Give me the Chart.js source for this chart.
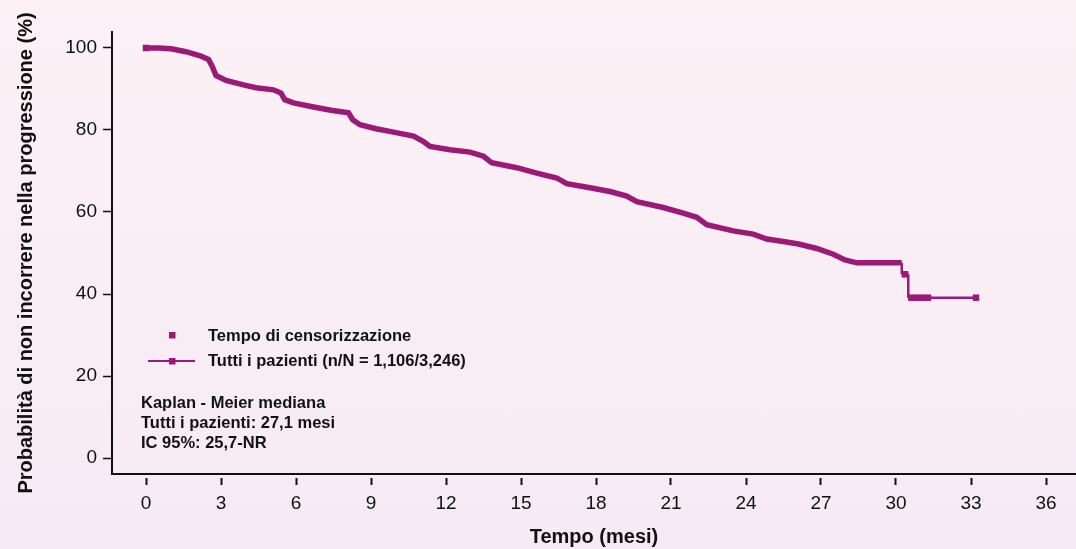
<!DOCTYPE html>
<html>
<head>
<meta charset="utf-8">
<script src="https://cdn.jsdelivr.net/npm/chart.js@4/dist/chart.umd.min.js"></script>
<style>
  html, body { margin: 0; padding: 0; }
  body { width: 1076px; height: 549px; overflow: hidden;
         background: linear-gradient(to bottom, #fcf1f5, #f6ebf4); }
  canvas { display: block; }
</style>
</head>
<body>
<canvas id="km" width="1076" height="549"></canvas>
<script>
// Kaplan-Meier curve (months, % without progression)
var timeMonths = [0, 0.5, 1.0, 1.6, 2.2, 2.5, 2.65, 2.8, 3.2, 3.9, 4.4, 5.1, 5.4, 5.55, 5.9,
  6.7, 7.4, 8.1, 8.27, 8.56, 9.2, 9.8, 10.7, 11.1, 11.36, 12.16, 12.96, 13.5, 13.83, 14.83,
  15.63, 16.43, 16.83, 17.76, 18.56, 19.23, 19.63, 20.69, 21.49, 22.03, 22.43, 23.49, 24.29,
  24.83, 25.49, 26.1, 26.83, 27.49, 27.96, 28.43, 30.23, 30.23, 30.49, 30.49, 31.3, 33.2];
var survival = [100, 100, 99.8, 99.1, 98.0, 97.2, 95.5, 93.3, 92.1, 91.0, 90.3, 89.8, 89.0, 87.4, 86.6,
  85.6, 84.8, 84.2, 82.5, 81.3, 80.3, 79.6, 78.5, 77.2, 76.0, 75.2, 74.6, 73.6, 72.0, 70.8,
  69.5, 68.3, 66.9, 65.9, 65.0, 63.9, 62.5, 61.1, 59.7, 58.7, 56.9, 55.4, 54.6,
  53.4, 52.8, 52.2, 51.1, 49.7, 48.3, 47.6, 47.6, 44.8, 44.8, 39.1, 39.1, 39.1];

// censoring marks that stand out from the thick curve
var censorTimes = [0, 30.36, 30.62, 30.85, 31.07, 31.28, 33.2];
var censorValues = [100, 44.8, 39.1, 39.1, 39.1, 39.1, 39.1];

var xTicks = [0, 3, 6, 9, 12, 15, 18, 21, 24, 27, 30, 33, 36];
var yTicks = [0, 20, 40, 60, 80, 100];

var legendLabels = ['Tempo di censorizzazione', 'Tutti i pazienti (n/N = 1,106/3,246)'];
var kmNotes = ['Kaplan - Meier mediana', 'Tutti i pazienti: 27,1 mesi', 'IC 95%: 25,7-NR'];

var purple = '#9b1a78';
var fontFamily = '"Liberation Sans", Arial, sans-serif';

var curvePoints = timeMonths.map(function (t, i) { return { x: t, y: survival[i] }; });
var censorPoints = censorTimes.map(function (t, i) { return { x: t, y: censorValues[i] }; });

// legend and median text inside the plot
var notesPlugin = {
  id: 'notes',
  afterDraw: function (chart) {
    var ctx = chart.ctx;
    var left = chart.chartArea.left;
    ctx.save();
    ctx.font = 'bold 16.5px ' + fontFamily;
    ctx.textBaseline = 'middle';
    ctx.textAlign = 'left';

    // legend row 1: square only
    ctx.fillStyle = purple;
    ctx.fillRect(left + 57, 332, 6.5, 6.5);
    // legend row 2: line with square
    ctx.strokeStyle = purple;
    ctx.lineWidth = 2;
    ctx.beginPath();
    ctx.moveTo(left + 36, 361);
    ctx.lineTo(left + 83, 361);
    ctx.stroke();
    ctx.fillRect(left + 57, 358, 6.5, 6.5);

    ctx.fillStyle = '#111';
    ctx.fillText(legendLabels[0], left + 96, 336);
    ctx.fillText(legendLabels[1], left + 96, 361);

    kmNotes.forEach(function (line, i) {
      ctx.fillText(line, left + 29, 403 + i * 20);
    });
    ctx.restore();
  }
};

new Chart(document.getElementById('km'), {
  type: 'line',
  data: {
    datasets: [{
      label: legendLabels[1],
      data: curvePoints,
      borderColor: purple,
      backgroundColor: purple,
      borderWidth: 5.5,
      pointRadius: 0,
      tension: 0,
      borderJoinStyle: 'miter',
      segment: {
        borderWidth: function (ctx) {
          if (ctx.p0.parsed.x === ctx.p1.parsed.x) return 2.5;
          if (ctx.p0.parsed.x >= 31.3) return 2.5;
          return 5.5;
        }
      }
    }, {
      label: legendLabels[0],
      data: censorPoints,
      showLine: false,
      pointStyle: 'rect',
      pointRadius: 4.6,
      pointBackgroundColor: purple,
      pointBorderWidth: 0,
      borderColor: purple
    }]
  },
  options: {
    responsive: false,
    animation: false,
    layout: { autoPadding: false, padding: { top: 32, right: 0, left: 0, bottom: 0 } },
    plugins: {
      legend: { display: false },
      tooltip: { enabled: false }
    },
    scales: {
      x: {
        type: 'linear',
        min: -1.36,
        max: 37.2,
        afterFit: function (scale) { scale.height = 75; },
        afterBuildTicks: function (scale) {
          scale.ticks = xTicks.map(function (v) { return { value: v }; });
        },
        ticks: { color: '#111', padding: 7, font: { family: fontFamily, size: 19 } },
        grid: {
          display: true,
          drawOnChartArea: false,
          drawTicks: true,
          tickLength: 11,
          tickBorderDash: [0, 3, 8, 40],
          tickColor: '#111',
          tickWidth: 2
        },
        border: { display: true, color: '#111', width: 2 },
        title: {
          display: true,
          text: 'Tempo (mesi)',
          color: '#111',
          padding: 0,
          font: { family: fontFamily, size: 20, weight: 'bold', lineHeight: 1.2 }
        }
      },
      y: {
        type: 'linear',
        min: -3.9,
        max: 103.9,
        afterFit: function (scale) { scale.width = 112; },
        afterBuildTicks: function (scale) {
          scale.ticks = yTicks.map(function (v) { return { value: v }; });
        },
        ticks: { color: '#111', padding: 6, font: { family: fontFamily, size: 19 } },
        grid: {
          display: true,
          drawOnChartArea: false,
          drawTicks: true,
          tickLength: 9,
          tickColor: '#111',
          tickWidth: 1.5
        },
        border: { display: true, color: '#111', width: 2 },
        title: {
          display: true,
          text: 'Probabilità di non incorrere nella progressione (%)',
          color: '#111',
          padding: { top: 14, bottom: 0 },
          font: { family: fontFamily, size: 20, weight: 'bold', lineHeight: 1.2 }
        }
      }
    }
  },
  plugins: [notesPlugin]
});
</script>
</body>
</html>
